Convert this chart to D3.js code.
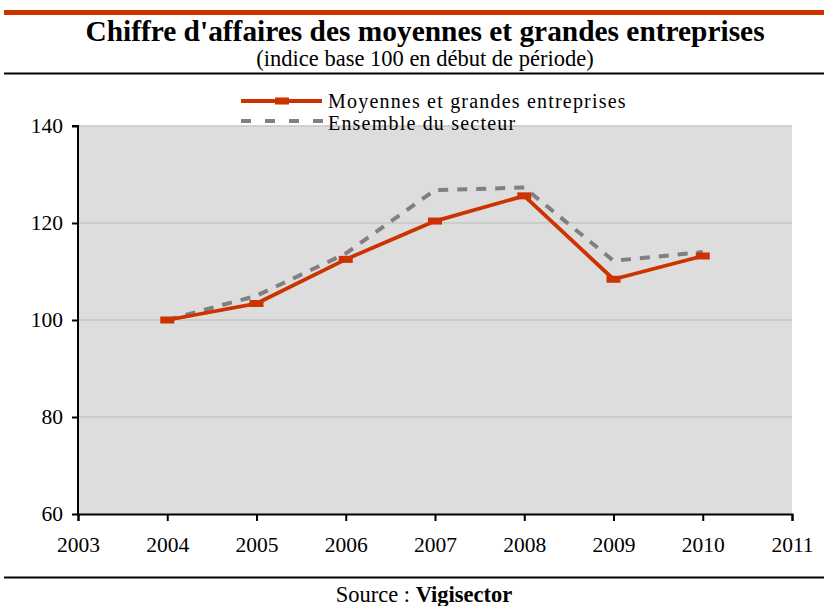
<!DOCTYPE html>
<html>
<head>
<meta charset="utf-8">
<script src="https://cdn.jsdelivr.net/npm/d3@7"></script>
<style>
  body { margin: 0; background: white; }
  text { font-family: "Liberation Serif", "Times New Roman", serif; }
</style>
</head>
<body>
<div id="chart"></div>
<script>
// DATA
const years = [2004, 2005, 2006, 2007, 2008, 2009, 2010];
const moyennes = [100, 103.4, 112.5, 120.4, 125.6, 108.4, 113.2];
const ensemble = [100, 105.0, 113.7, 126.8, 127.3, 112.2, 114.0];
const yTicks = [60, 80, 100, 120, 140];
const xTicks = [2003, 2004, 2005, 2006, 2007, 2008, 2009, 2010, 2011];

const width = 824, height = 606;
const plot = { left: 78, right: 792, top: 126, bottom: 514 };
const serif = 'Liberation Serif, Times New Roman, serif';

const svg = d3.select('#chart')
    .append('svg')
    .attr('width', width)
    .attr('height', height)
    .attr('font-family', serif);

// HEADER RULES
svg.append('rect')
    .attr('x', 4).attr('y', 10)
    .attr('width', width - 4).attr('height', 5)
    .attr('fill', '#cc3300');

svg.append('line')
    .attr('x1', 4).attr('x2', width)
    .attr('y1', 73.5).attr('y2', 73.5)
    .attr('stroke', '#000').attr('stroke-width', 2);

svg.append('text')
    .attr('x', 425).attr('y', 41)
    .attr('text-anchor', 'middle')
    .style('font-size', '29.4px').style('font-weight', 'bold')
    .text("Chiffre d'affaires des moyennes et grandes entreprises");

svg.append('text')
    .attr('x', 425).attr('y', 66)
    .attr('text-anchor', 'middle')
    .style('font-size', '22.5px')
    .text('(indice base 100 en début de période)');

// SCALES
const x = d3.scaleLinear().domain([2003, 2011]).range([plot.left, plot.right]);
const y = d3.scaleLinear().domain([60, 140]).range([plot.bottom, plot.top]);

// PLOT BACKGROUND
svg.append('rect')
    .attr('x', plot.left).attr('y', plot.top)
    .attr('width', plot.right - plot.left)
    .attr('height', plot.bottom - plot.top)
    .attr('fill', '#dddddd');

// GRIDLINES
svg.append('g')
    .selectAll('line')
    .data(yTicks.filter(d => d > 60))
    .enter()
    .append('line')
    .attr('x1', plot.left).attr('x2', plot.right)
    .attr('y1', d => y(d)).attr('y2', d => y(d))
    .attr('stroke', '#c6c6c6').attr('stroke-width', 1.5);

// AXES
const yAxis = svg.append('g')
    .attr('transform', `translate(${plot.left},0)`)
    .call(d3.axisLeft(y).tickValues(yTicks).tickSize(6).tickPadding(9).tickFormat(d3.format('d')));

const xAxis = svg.append('g')
    .attr('transform', `translate(0,${plot.bottom})`)
    .call(d3.axisBottom(x).tickValues(xTicks).tickSize(7).tickPadding(16).tickFormat(d3.format('d')));

[yAxis, xAxis].forEach(a => {
    a.attr('font-family', serif).attr('font-size', 21.5);
    a.select('.domain').attr('stroke', '#000').attr('stroke-width', 2);
    a.selectAll('.tick line').attr('stroke', '#000').attr('stroke-width', 2);
    a.selectAll('.tick text')
        .attr('fill', '#000')
        .attr('font-family', serif)
        .style('font-family', serif)
        .style('font-size', '21.5px');
});
yAxis.select('.domain').attr('d', `M-6,${plot.top}H0V${plot.bottom}`);

// LINES
const lineFx = values => d3.line()
    .x((d, i) => x(years[i]))
    .y(d => y(d))(values);

svg.append('path')
    .attr('d', lineFx(ensemble))
    .attr('fill', 'none')
    .attr('stroke', '#808080')
    .attr('stroke-width', 4)
    .attr('stroke-dasharray', '10,9');

svg.append('path')
    .attr('d', lineFx(moyennes))
    .attr('fill', 'none')
    .attr('stroke', '#cc3300')
    .attr('stroke-width', 3.8)
    .attr('stroke-linejoin', 'round');

svg.append('g')
    .selectAll('rect')
    .data(moyennes)
    .enter()
    .append('rect')
    .attr('x', (d, i) => x(years[i]) - 7)
    .attr('y', d => y(d) - 3.5)
    .attr('width', 14).attr('height', 7)
    .attr('fill', '#cc3300');

// LEGEND
const legend = svg.append('g');
legend.append('line')
    .attr('x1', 241).attr('x2', 322)
    .attr('y1', 101).attr('y2', 101)
    .attr('stroke', '#cc3300').attr('stroke-width', 3.8);
legend.append('rect')
    .attr('x', 275).attr('y', 97.5)
    .attr('width', 14).attr('height', 7)
    .attr('fill', '#cc3300');
legend.append('text')
    .attr('x', 328).attr('y', 108)
    .style('font-size', '20px')
    .style('letter-spacing', '1.2px')
    .text('Moyennes et grandes entreprises');

legend.append('line')
    .attr('x1', 241).attr('x2', 326)
    .attr('y1', 121).attr('y2', 121)
    .attr('stroke', '#808080').attr('stroke-width', 4)
    .attr('stroke-dasharray', '10,14');
legend.append('text')
    .attr('x', 328).attr('y', 130)
    .style('font-size', '20px')
    .style('letter-spacing', '1.2px')
    .text('Ensemble du secteur');

// FOOTER
svg.append('line')
    .attr('x1', 4).attr('x2', width)
    .attr('y1', 577.5).attr('y2', 577.5)
    .attr('stroke', '#000').attr('stroke-width', 2);

const source = svg.append('text')
    .attr('x', 424).attr('y', 602)
    .attr('text-anchor', 'middle')
    .style('font-size', '22.5px');
source.append('tspan').text('Source : ');
source.append('tspan').style('font-weight', 'bold').text('Vigisector');
</script>
</body>
</html>
